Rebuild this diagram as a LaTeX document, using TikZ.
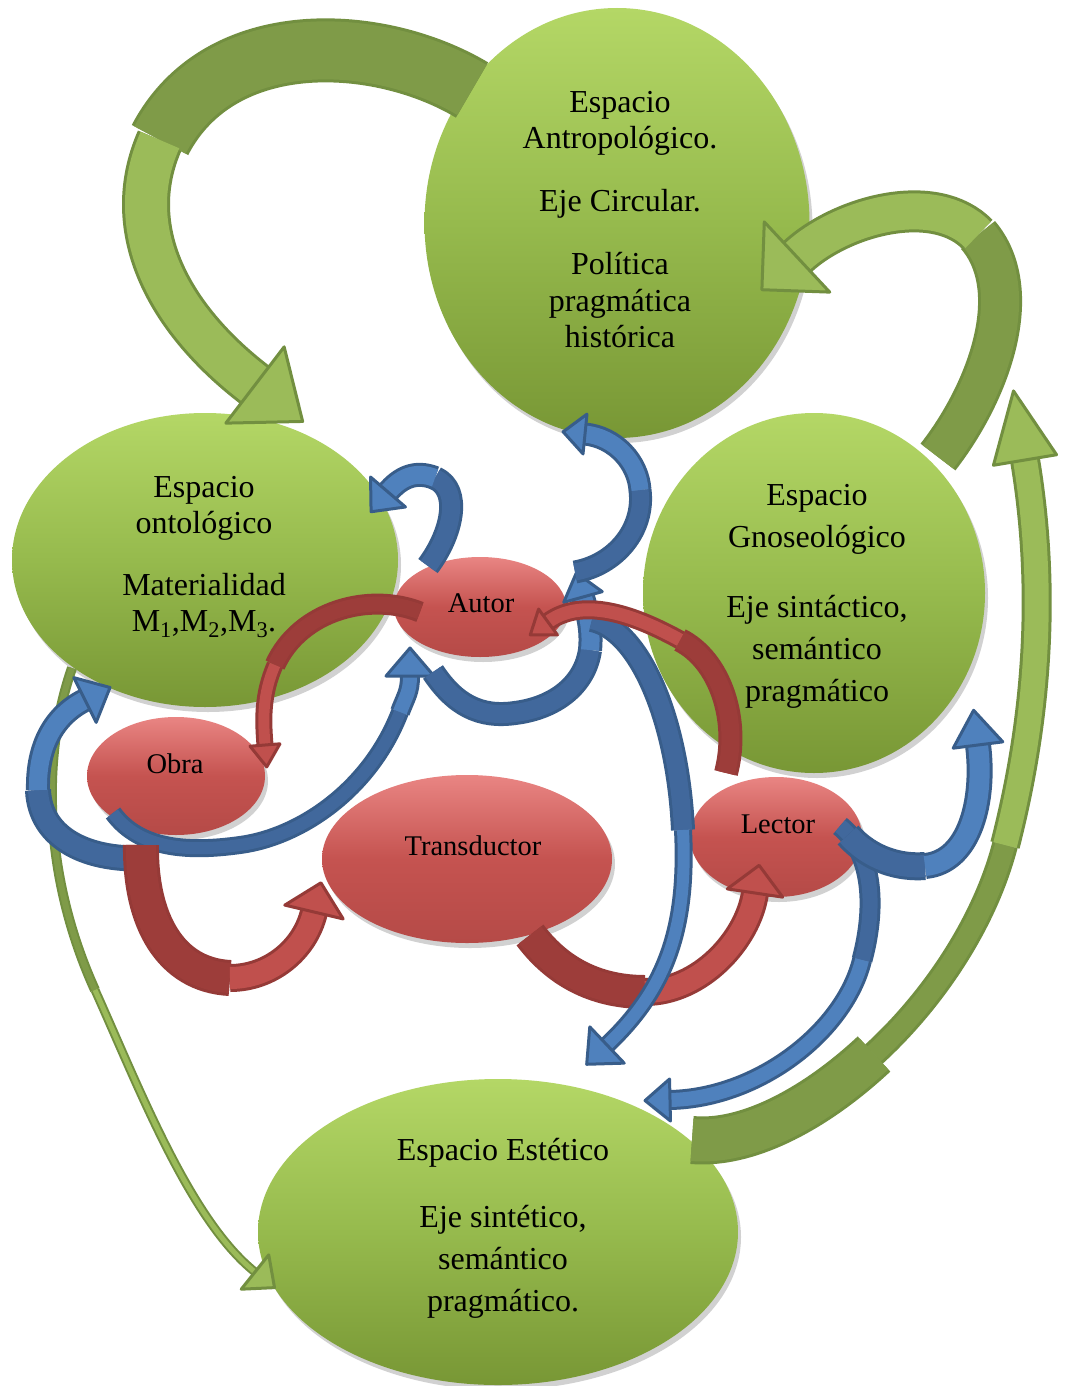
\documentclass[tikz,border=0pt]{standalone}
\usepackage{fontspec}
\setmainfont{Liberation Serif}
\usetikzlibrary{calc,shapes.geometric,shadows}

\definecolor{gLight}{HTML}{9BBB59}
\definecolor{gDark}{HTML}{7F9B48}
\definecolor{gEdge}{HTML}{728F40}
\definecolor{bLight}{HTML}{4F81BD}
\definecolor{bDark}{HTML}{41689C}
\definecolor{bEdge}{HTML}{385D8A}
\definecolor{rLight}{HTML}{C0504D}
\definecolor{rDark}{HTML}{9D3D3A}
\definecolor{rEdge}{HTML}{953A37}
\definecolor{spTop}{HTML}{B4D766}
\definecolor{spMid}{HTML}{96BA4D}
\definecolor{spBot}{HTML}{789735}
\definecolor{agTop}{HTML}{E98583}
\definecolor{agMid}{HTML}{C55350}
\definecolor{agBot}{HTML}{B54A47}

% rim added around each band to draw its outline
\newcommand{\bandrim}{6pt}
% #1 colour prefix, #2 back segment, #3 front segment, #4/#5 widths,
% #6 last control point, #7 base of the head, #8 head length, #9 head half width
\newcommand{\twistarrow}[9]{%
  \draw[#1edge, line width=#4+\bandrim] #2;
  \draw[#1edge, line width=#5+\bandrim] #3;
  \draw[#1dark, line width=#4] #2;
  \draw[#1light, line width=#5] #3;
  \filldraw[#1head] ($(#7)!#9!90:(#6)$) -- ($(#7)!-#8!(#6)$) -- ($(#7)!#9!-90:(#6)$) -- cycle;}

\tikzset{
  band/.style={line cap=butt, line join=round},
  gedge/.style={band, draw=gEdge}, gdark/.style={band, draw=gDark}, glight/.style={band, draw=gLight},
  bedge/.style={band, draw=bEdge}, bdark/.style={band, draw=bDark}, blight/.style={band, draw=bLight},
  redge/.style={band, draw=rEdge}, rdark/.style={band, draw=rDark}, rlight/.style={band, draw=rLight},
  ghead/.style={fill=gLight, draw=gEdge, line width=3pt, line join=round},
  bhead/.style={fill=bLight, draw=bEdge, line width=3pt, line join=round},
  rhead/.style={fill=rLight, draw=rEdge, line width=3pt, line join=round},
  spacenode/.style={ellipse, inner sep=0pt, draw=none, top color=spTop, bottom color=spBot, middle color=spMid,
    drop shadow={shadow xshift=3pt, shadow yshift=-5pt, opacity=0.18, fill=black}},
  agentnode/.style={ellipse, inner sep=0pt, draw=none, top color=agTop, bottom color=agBot, middle color=agMid,
    drop shadow={shadow xshift=3pt, shadow yshift=-5pt, opacity=0.18, fill=black}},
  spacetxt/.style={font=\fontsize{32}{36.5}\selectfont, align=center, inner sep=0pt, anchor=north},
  spacetxtwide/.style={font=\fontsize{32}{42}\selectfont, align=center, inner sep=0pt, anchor=north},
  agenttxt/.style={font=\fontsize{28.5}{34}\selectfont, inner sep=0pt, anchor=base}
}

\begin{document}
\begin{tikzpicture}[x=1pt, y=-1pt]
\useasboundingbox (0,0) rectangle (1075,1386);
\fill[white] (0,0) rectangle (1075,1386);

% the four spaces and the four agents
\node[spacenode, minimum width=385pt, minimum height=430pt] (ant) at (617,223) {};
\node[spacenode, minimum width=386pt, minimum height=294pt] (ont) at (205,560) {};
\node[spacenode, minimum width=342pt, minimum height=360pt] (gno) at (814,593) {};
\node[spacenode, minimum width=480pt, minimum height=306pt] (est) at (498,1232) {};
\node[agentnode, minimum width=290pt, minimum height=168pt] (trans) at (467,859) {};
\node[agentnode, minimum width=178pt, minimum height=118pt] (obra) at (176,776) {};
\node[agentnode, minimum width=172pt, minimum height=120pt] (lector) at (776,837) {};
\node[agentnode, minimum width=172pt, minimum height=100pt] (autor) at (480,607) {};

% band end points
\coordinate (g1tail) at (472,90);   \coordinate (g1twist) at (160,140);  \coordinate (g1base) at (255,385);
\coordinate (g2tail) at (938,457);  \coordinate (g2twist) at (978,235);  \coordinate (g2base) at (797,257);
\coordinate (g3tail) at (692,1140); \coordinate (g3mid) at (874,1054);   \coordinate (g3twist) at (1005,845); \coordinate (g3base) at (1025,460);
\coordinate (g4tail) at (72,668);   \coordinate (g4twist) at (95,990);   \coordinate (g4base) at (255,1272);
\coordinate (b1tail) at (428,566);  \coordinate (b1twist) at (435,478);  \coordinate (b1base) at (388,492);
\coordinate (b2tail) at (575,572);  \coordinate (b2twist) at (640,490);  \coordinate (b2base) at (585,434);
\coordinate (b3tail) at (433,672);  \coordinate (b3twist) at (590,650);  \coordinate (b3base) at (583,597);
\coordinate (b4tail) at (113,813);  \coordinate (b4twist) at (400,712);  \coordinate (b4base) at (410,676);
\coordinate (b5tail) at (592,620);  \coordinate (b5twist) at (683,830);  \coordinate (b5base) at (607,1045);
\coordinate (b6tail) at (840,826);  \coordinate (b6twist) at (862,960);  \coordinate (b6base) at (670,1100);
\coordinate (b7tail) at (848,835);  \coordinate (b7twist) at (925,866);  \coordinate (b7base) at (978,745);
\coordinate (b8tail) at (150,858);  \coordinate (b8twist) at (38,790);   \coordinate (b8base) at (85,700);
\coordinate (r1tail) at (420,612);  \coordinate (r1twist) at (275,665);  \coordinate (r1base) at (265,745);
\coordinate (r2tail) at (726,773);  \coordinate (r2twist) at (680,640);  \coordinate (r2base) at (548,622);
\coordinate (r3tail) at (141,845);  \coordinate (r3twist) at (230,978);  \coordinate (r3base) at (314,912);
\coordinate (r4tail) at (530,935);  \coordinate (r4twist) at (645,992);  \coordinate (r4base) at (755,893);

% green bands between the spaces
\renewcommand{\bandrim}{4pt}
\twistarrow{g}{(g4tail) .. controls (40,760) and (45,880) .. (g4twist)}{(g4twist) .. controls (140,1090) and (190,1220) .. (g4base)}{6pt}{5pt}{190,1220}{g4base}{25pt}{22pt}
\renewcommand{\bandrim}{6pt}
\twistarrow{g}{(g1tail) .. controls (380,35) and (220,25) .. (g1twist)}{(g1twist) .. controls (120,230) and (170,320) .. (g1base)}{58pt}{42pt}{170,320}{g1base}{60pt}{48pt}
\twistarrow{g}{(g2tail) .. controls (990,390) and (1025,290) .. (g2twist)}{(g2twist) .. controls (935,190) and (841,216) .. (g2base)}{38pt}{36pt}{841,216}{g2base}{48pt}{48pt}
\draw[gedge, line width=48pt] (g3tail) .. controls (746,1145) and (814,1110) .. (g3mid);
\draw[gedge, line width=26pt] (g3mid) .. controls (934,999) and (985,922) .. (g3twist);
\draw[gedge, line width=30pt] (g3twist) .. controls (1040,709) and (1045,580) .. (g3base);
\draw[gdark, line width=42pt] (g3tail) .. controls (746,1145) and (814,1110) .. (g3mid);
\draw[gdark, line width=20pt] (g3mid) .. controls (934,999) and (985,922) .. (g3twist);
\draw[glight, line width=24pt] (g3twist) .. controls (1040,709) and (1045,580) .. (g3base);
\filldraw[ghead] ($(g3base)!32pt!90:(1045,580)$) -- ($(g3base)!-70pt!(1045,580)$) -- ($(g3base)!32pt!-90:(1045,580)$) -- cycle;

% blue bands below the agents
\twistarrow{b}{(b8tail) .. controls (90,862) and (40,840) .. (b8twist)}{(b8twist) .. controls (37,745) and (55,715) .. (b8base)}{20pt}{18pt}{55,715}{b8base}{28pt}{25pt}
\twistarrow{b}{(b4tail) .. controls (140,850) and (190,852) .. (240,845) .. controls (300,837) and (370,790) .. (b4twist)}{(b4twist) .. controls (406,696) and (410,692) .. (b4base)}{12pt}{14pt}{410,692}{b4base}{28pt}{24pt}

% red bands around the transductor
\twistarrow{r}{(r3tail) .. controls (140,920) and (170,975) .. (r3twist)}{(r3twist) .. controls (270,978) and (305,950) .. (r3base)}{30pt}{22pt}{305,950}{r3base}{30pt}{30pt}
\twistarrow{r}{(r4tail) .. controls (560,975) and (600,992) .. (r4twist)}{(r4twist) .. controls (700,992) and (748,940) .. (r4base)}{28pt}{22pt}{748,940}{r4base}{28pt}{28pt}

% blue bands from author and reader
\twistarrow{b}{(b1tail) .. controls (452,534) and (462,490) .. (b1twist)}{(b1twist) .. controls (415,470) and (400,478) .. (b1base)}{18pt}{18pt}{400,478}{b1base}{26pt}{23pt}
\twistarrow{b}{(b3tail) .. controls (455,705) and (480,718) .. (515,713) .. controls (555,708) and (585,685) .. (b3twist)}{(b3twist) .. controls (592,630) and (588,615) .. (b3base)}{18pt}{18pt}{588,615}{b3base}{25pt}{20pt}
\twistarrow{b}{(b2tail) .. controls (615,565) and (645,530) .. (b2twist)}{(b2twist) .. controls (638,462) and (615,437) .. (b2base)}{17pt}{17pt}{615,437}{b2base}{22pt}{20pt}
\twistarrow{b}{(b5tail) .. controls (640,630) and (678,720) .. (b5twist)}{(b5twist) .. controls (688,930) and (665,990) .. (b5base)}{18pt}{12pt}{665,990}{b5base}{28pt}{25pt}
\twistarrow{b}{(b6tail) .. controls (870,850) and (878,900) .. (b6twist)}{(b6twist) .. controls (845,1030) and (760,1098) .. (b6base)}{15pt}{14pt}{760,1098}{b6base}{25pt}{21pt}
\twistarrow{b}{(b7tail) .. controls (870,860) and (900,868) .. (b7twist)}{(b7twist) .. controls (970,862) and (985,800) .. (b7base)}{22pt}{20pt}{985,800}{b7base}{35pt}{25pt}

% red bands from author to work and reader to author
\twistarrow{r}{(r1tail) .. controls (370,592) and (300,610) .. (r1twist)}{(r1twist) .. controls (262,695) and (263,720) .. (r1base)}{15pt}{11pt}{263,720}{r1base}{22pt}{15pt}
\twistarrow{r}{(r2tail) .. controls (740,720) and (720,660) .. (r2twist)}{(r2twist) .. controls (640,618) and (585,595) .. (r2base)}{18pt}{13pt}{585,595}{r2base}{22pt}{16pt}

% labels
\node[spacetxt] (antT) at (620,82) {\rule{0pt}{30pt}Espacio\\Antropológico.\\[26.5pt]Eje Circular.\\[26.5pt]Política\\pragmática\\histórica};
\node[spacetxt] (ontT) at (204,467) {\rule{0pt}{30pt}Espacio\\ontológico\\[25pt]Materialidad\\M\textsubscript{1},M\textsubscript{2},M\textsubscript{3}.};
\node[spacetxtwide] (gnoT) at (817,475) {\rule{0pt}{30pt}Espacio\\Gnoseológico\\[28pt]Eje sintáctico,\\semántico\\pragmático};
\node[spacetxtwide] (estT) at (503,1130) {\rule{0pt}{30pt}Espacio Estético\\[25pt]Eje sintético,\\semántico\\pragmático.};
\node[agenttxt] (autorT) at (481,612) {Autor};
\node[agenttxt] (obraT) at (175,773) {Obra};
\node[agenttxt] (transT) at (473,855) {Transductor};
\node[agenttxt] (lectorT) at (778,833) {Lector};
\end{tikzpicture}
\end{document}
